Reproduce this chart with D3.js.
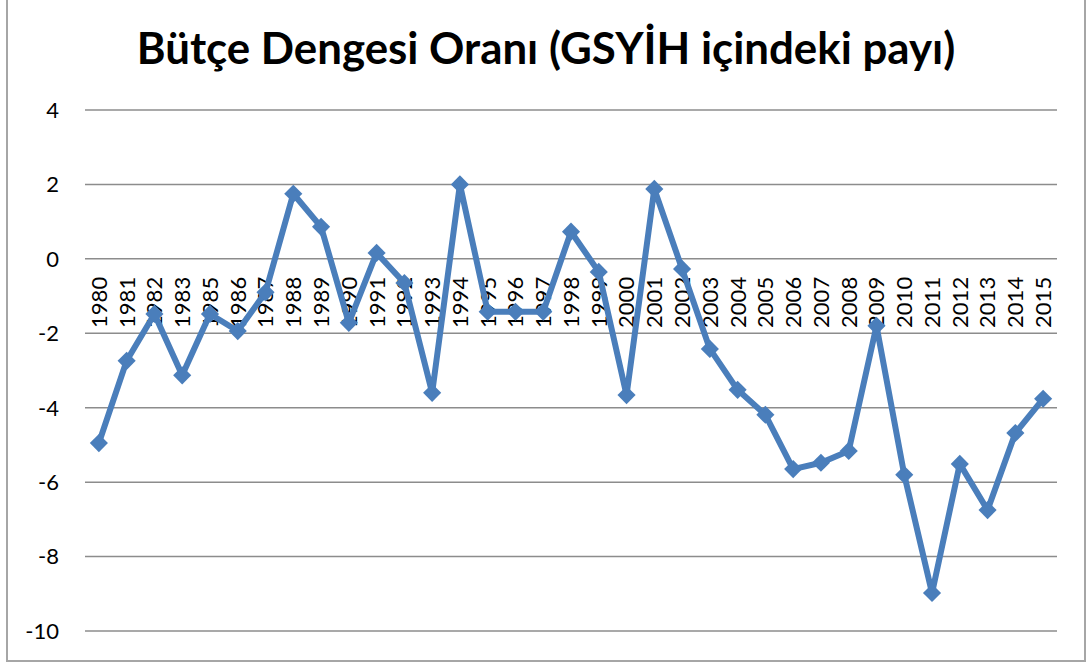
<!DOCTYPE html>
<head>
    <meta charset="utf-8">
    <script src="https://d3js.org/d3.v7.min.js"></script>
</head>
<body style="margin:0; background: white">
    <div id="my_dataviz"></div>
    <script>
        // years on the category axis (1984 is missing in the source)
        var years = ["1980", "1981", "1982", "1983", "1985", "1986", "1987", "1988", "1989", "1990",
            "1991", "1992", "1993", "1994", "1995", "1996", "1997", "1998", "1999", "2000",
            "2001", "2002", "2003", "2004", "2005", "2006", "2007", "2008", "2009", "2010",
            "2011", "2012", "2013", "2014", "2015"];

        // budget balance as % of GDP
        var balance = [-4.95, -2.74, -1.48, -3.13, -1.48, -1.94, -0.9, 1.75, 0.86, -1.72,
            0.16, -0.65, -3.6, 2.0, -1.42, -1.42, -1.42, 0.73, -0.35, -3.66,
            1.88, -0.27, -2.42, -3.52, -4.19, -5.65, -5.48, -5.16, -1.8, -5.8,
            -8.98, -5.51, -6.75, -4.68, -3.76];

        var yTicks = [-10, -8, -6, -4, -2, 0, 2, 4];

        var title = "Bütçe Dengesi Oranı (GSYİH içindeki payı)";

        var W = 1088, H = 666;
        var margin = { top: 110, right: 31, bottom: 35, left: 85 };
        var width = W - margin.left - margin.right,
            height = 631 - margin.top;

        var font = "Lato, 'Open Sans', sans-serif";

        var svg = d3.select("#my_dataviz")
            .append("svg")
            .attr("width", W)
            .attr("height", H);

        // chart border
        svg.append("rect")
            .attr("x", 7).attr("y", -2)
            .attr("width", 1078).attr("height", 663)
            .attr("fill", "none")
            .attr("stroke", "#a6a6a6")
            .attr("stroke-width", 2);

        // title, fitted to the width it has in the original
        var t = svg.append("text")
            .attr("x", 546).attr("y", 64)
            .attr("text-anchor", "middle")
            .style("font-family", font)
            .style("font-weight", "bold")
            .style("font-size", "40px")
            .attr("fill", "black")
            .text(title);
        var tw = t.node().getComputedTextLength();
        t.style("font-size", (40 * 818 / tw).toFixed(1) + "px");

        var g = svg.append("g")
            .attr("transform", "translate(" + margin.left + "," + margin.top + ")");

        var x = d3.scaleBand()
            .domain(years)
            .range([0, width]);

        var y = d3.scaleLinear()
            .domain([-10, 4])
            .range([height, 0]);

        // gridlines
        g.selectAll(".grid")
            .data(yTicks)
            .enter()
            .append("line")
            .attr("x1", 0).attr("x2", width)
            .attr("y1", function (d) { return y(d) })
            .attr("y2", function (d) { return y(d) })
            .attr("stroke", "#8c8c8c")
            .attr("stroke-width", 1.5);

        // y labels
        g.selectAll(".ylab")
            .data(yTicks)
            .enter()
            .append("text")
            .attr("x", -26)
            .attr("y", function (d) { return y(d) })
            .attr("dy", "0.36em")
            .attr("text-anchor", "end")
            .style("font-family", font)
            .style("font-size", "22px")
            .attr("fill", "black")
            .text(function (d) { return d });

        // x labels, rotated, hanging under the zero line
        g.selectAll(".xlab")
            .data(years)
            .enter()
            .append("text")
            .attr("transform", function (d) {
                return "translate(" + (x(d) + x.bandwidth() / 2) + "," + (y(0) + 18) + ") rotate(-90)";
            })
            .attr("dy", "0.36em")
            .attr("text-anchor", "end")
            .style("font-family", font)
            .style("font-size", "22px")
            .attr("fill", "black")
            .text(function (d) { return d });

        var pts = years.map(function (d, i) { return { year: d, v: balance[i] } });

        var line = d3.line()
            .x(function (d) { return x(d.year) + x.bandwidth() / 2 })
            .y(function (d) { return y(d.v) });

        g.append("path")
            .datum(pts)
            .attr("d", line)
            .attr("fill", "none")
            .attr("stroke", "#4a7ebb")
            .attr("stroke-width", 6)
            .attr("stroke-linejoin", "round");

        g.selectAll(".pt")
            .data(pts)
            .enter()
            .append("path")
            .attr("d", d3.symbol().type(d3.symbolDiamond2).size(210))
            .attr("transform", function (d) {
                return "translate(" + (x(d.year) + x.bandwidth() / 2) + "," + y(d.v) + ")";
            })
            .attr("fill", "#4a7ebb");
    </script>
</body>
</html>
